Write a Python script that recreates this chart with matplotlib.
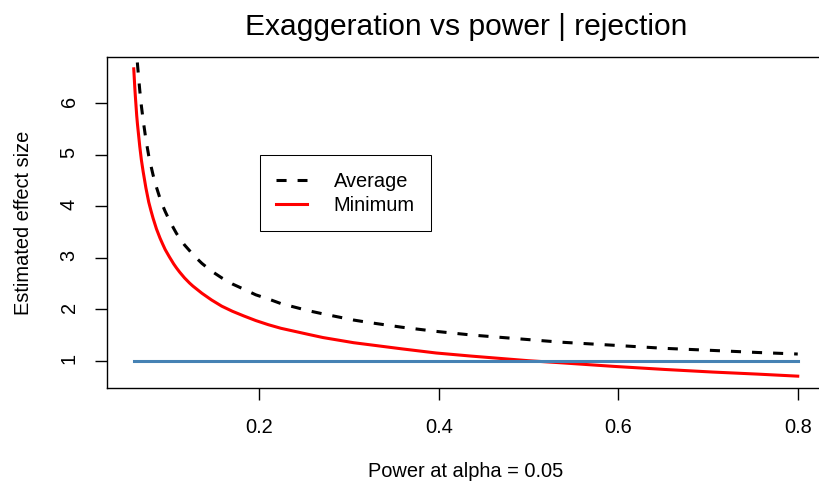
"""
Exaggeration ratio vs power, given a significant result (rejection).
Average and minimum estimated effect size relative to the true effect.
"""
import matplotlib
matplotlib.use("Agg")
import matplotlib.pyplot as plt

plt.rcParams["font.family"] = ["Liberation Sans", "DejaVu Sans"]

W, H = 819, 490

# values
power = [0.0600, 0.0611, 0.0618, 0.0633, 0.0641, 0.0667, 0.0685, 0.0705, 0.0735,
         0.0767, 0.0791, 0.0815, 0.0853, 0.0893, 0.0921, 0.0950, 0.0996, 0.1045,
         0.1077, 0.1112, 0.1165, 0.1221, 0.1259, 0.1360, 0.1467, 0.1580, 0.1700,
         0.1826, 0.1960, 0.2099, 0.2240, 0.2395, 0.2550, 0.2709, 0.2880, 0.3050,
         0.3230, 0.3590, 0.3970, 0.4360, 0.5000, 0.5360, 0.5950, 0.6520, 0.7050,
         0.7550, 0.8000]
average = [8.02, 7.62, 7.40, 6.97, 6.77, 6.25, 5.95, 5.67, 5.30,
           4.98, 4.79, 4.61, 4.37, 4.15, 4.02, 3.90, 3.73, 3.57,
           3.47, 3.38, 3.25, 3.14, 3.06, 2.89, 2.74, 2.61, 2.49,
           2.39, 2.28, 2.20, 2.11, 2.04, 1.97, 1.91, 1.85, 1.79,
           1.74, 1.65, 1.57, 1.50, 1.41, 1.36, 1.30, 1.24, 1.20,
           1.16, 1.13]
minimum = [6.67, 6.32, 6.13, 5.76, 5.60, 5.16, 4.90, 4.67, 4.36,
           4.08, 3.92, 3.77, 3.56, 3.38, 3.27, 3.16, 3.02, 2.88,
           2.80, 2.72, 2.61, 2.51, 2.45, 2.31, 2.18, 2.06, 1.96,
           1.87, 1.78, 1.70, 1.63, 1.57, 1.51, 1.45, 1.40, 1.35,
           1.31, 1.23, 1.15, 1.09, 1.00, 0.96, 0.89, 0.83, 0.78,
           0.74, 0.70]
truth_x = [0.060, 0.800]
truth_y = [1.0, 1.0]

xticks = [0.2, 0.4, 0.6, 0.8]
yticks = [1, 2, 3, 4, 5, 6]

fig = plt.figure(figsize=(W / 100, H / 100), dpi=100)
# plot box in pixels: left 107, right 824 (cut by the image edge), top 57, bottom 388
ax = fig.add_axes([107.2 / W, 1 - 388 / H, (824.3 - 107.2) / W, (388 - 57.3) / H])

ax.plot(power, average, color="black", lw=2.2, dashes=(3.3, 3.6), label="Average")
ax.plot(power, minimum, color="red", lw=2.2, label="Minimum")
ax.plot(truth_x, truth_y, color="steelblue", lw=2.2)

ax.set_xlim(0.0304, 0.8296)
ax.set_ylim(0.470, 6.894)
ax.set_xticks(xticks)
ax.set_xticklabels([f"{v:.1f}" for v in xticks])
ax.set_yticks(yticks)
ax.set_yticklabels([str(v) for v in yticks])

for s in ax.spines.values():
    s.set_linewidth(1.0)
    s.set_color("black")
ax.tick_params(direction="out", length=8.6, width=1.0, labelsize=14.4, colors="black")
ax.tick_params(axis="x", pad=13)
ax.tick_params(axis="y", pad=12, labelrotation=90)

leg = ax.legend(loc="upper left", bbox_to_anchor=(259.7 / W, 1 - 155.3 / H),
                bbox_transform=fig.transFigure, borderaxespad=0, fontsize=14.4,
                handlelength=1.55, handletextpad=1.33, borderpad=0.82,
                labelspacing=0.24, fancybox=False, framealpha=1, edgecolor="black")
leg.get_frame().set_linewidth(0.75)

fig.text(466 / W, 1 - 35 / H, "Exaggeration vs power | rejection",
         ha="center", va="baseline", fontsize=21.6)
fig.text(466 / W, 1 - 477 / H, "Power at alpha = 0.05",
         ha="center", va="baseline", fontsize=14.4)
fig.text(24 / W, 1 - 222.7 / H, "Estimated effect size",
         ha="center", va="center", rotation=90, fontsize=14.4)

fig.savefig("out.png", dpi=100)
